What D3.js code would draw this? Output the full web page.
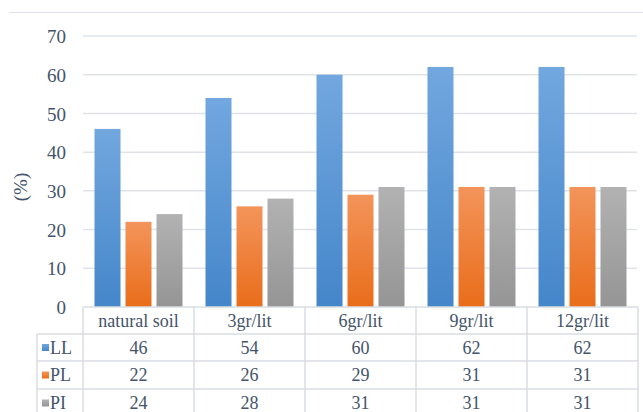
<!DOCTYPE html>
<html><head><meta charset="utf-8">
<script src="https://cdn.jsdelivr.net/npm/d3@7/dist/d3.min.js"></script>
<style>body{margin:0;background:#fff}svg{display:block}</style>
</head><body><svg id="c" width="643" height="412"></svg>
<script>
const categories = ["natural soil","3gr/lit","6gr/lit","9gr/lit","12gr/lit"];
const seriesNames = ["LL","PL","PI"];
const LL = [46,54,60,62,62];
const PL = [22,26,29,31,31];
const PI = [24,28,31,31,31];
const yTicks = [0,10,20,30,40,50,60,70];
const seriesValues = [LL,PL,PI];

const FONT = "'Liberation Serif', 'Times New Roman', serif";
const TXT = "#44546A";
const svg = d3.select("#c");
const gridColor = "#dfe3e8";
const lineColor = "#d9dde3";
const grads = [["#72a7df","#4486ca"],["#f3945a","#e96d1a"],["#b2b2b2","#959595"]];

const defs = svg.append("defs");
grads.forEach((g,i)=>{
  const lg = defs.append("linearGradient").attr("id","g"+i).attr("x1",0).attr("y1",0).attr("x2",0).attr("y2",1);
  lg.append("stop").attr("offset","0%").attr("stop-color",g[0]);
  lg.append("stop").attr("offset","100%").attr("stop-color",g[1]);
});

const x0 = d3.scaleBand().domain(categories).range([83,638]).padding(0);
const bw = x0.bandwidth();
const groupW = 88;
const x1 = d3.scaleBand().domain(seriesNames).range([(bw-groupW)/2,(bw+groupW)/2]).paddingInner(0.161);
const y = d3.scaleLinear().domain([0,70]).range([307,36]);

function txt(sel){ return sel.style("font-family",FONT).style("fill",TXT); }

svg.append("line").attr("x1",9).attr("x2",643).attr("y1",12.5).attr("y2",12.5).attr("stroke",gridColor).attr("stroke-width",1);

svg.append("g").selectAll("line").data(yTicks.filter(d=>d>0)).join("line")
  .attr("x1",83).attr("x2",637).attr("y1",d=>y(d)).attr("y2",d=>y(d))
  .attr("stroke",gridColor).attr("stroke-width",1.5);

const yAxis = d3.axisLeft(y).tickValues(yTicks).tickSize(0).tickPadding(0);
const ya = svg.append("g").attr("transform","translate(66,0)").call(yAxis);
ya.select(".domain").remove();
ya.attr("font-family",null).attr("font-size",null);
txt(ya.selectAll("text")).style("font-size","19px").attr("dy","0.35em");

txt(svg.append("text").attr("transform","translate(27,187) rotate(-90)").attr("text-anchor","middle")
  .style("font-size","19px").text("(%)"));

seriesNames.forEach((s,si)=>{
  svg.append("g").selectAll("rect").data(seriesValues[si]).join("rect")
    .attr("x",(d,i)=>x0(categories[i])+x1(s))
    .attr("width",x1.bandwidth())
    .attr("y",d=>y(d)).attr("height",d=>y(0)-y(d))
    .attr("fill","url(#g"+si+")");
});

const rowY = [307,334,361,389,417];
const T = svg.append("g").attr("stroke",lineColor).attr("stroke-width",1.5);
T.append("line").attr("x1",83).attr("x2",638).attr("y1",rowY[0]).attr("y2",rowY[0]);
[1,2,3].forEach(r=>T.append("line").attr("x1",37).attr("x2",638).attr("y1",rowY[r]).attr("y2",rowY[r]));
T.append("line").attr("x1",37).attr("x2",37).attr("y1",rowY[1]).attr("y2",412);
categories.forEach((c,i)=>{
  T.append("line").attr("x1",x0(c)).attr("x2",x0(c)).attr("y1",rowY[0]).attr("y2",412);
});
T.append("line").attr("x1",x0.range()[1]).attr("x2",x0.range()[1]).attr("y1",rowY[0]).attr("y2",412);

txt(svg.append("g").selectAll("text").data(categories).join("text")
  .attr("x",d=>x0(d)+bw/2).attr("y",(rowY[0]+rowY[1])/2).attr("dy","0.35em")
  .attr("text-anchor","middle").style("font-size","18px").text(d=>d));

seriesNames.forEach((s,si)=>{
  const cy = (rowY[si+1]+rowY[si+2])/2;
  svg.append("rect").attr("x",42).attr("y",cy-3.5).attr("width",7).attr("height",7).attr("fill","url(#g"+si+")");
  txt(svg.append("text").attr("x",50).attr("y",cy).attr("dy","0.35em").style("font-size","18px").text(s));
  txt(svg.append("g").selectAll("text").data(seriesValues[si]).join("text")
    .attr("x",(d,i)=>x0(categories[i])+bw/2).attr("y",cy).attr("dy","0.35em")
    .attr("text-anchor","middle").style("font-size","18px").text(d=>d));
});
</script></body></html>
